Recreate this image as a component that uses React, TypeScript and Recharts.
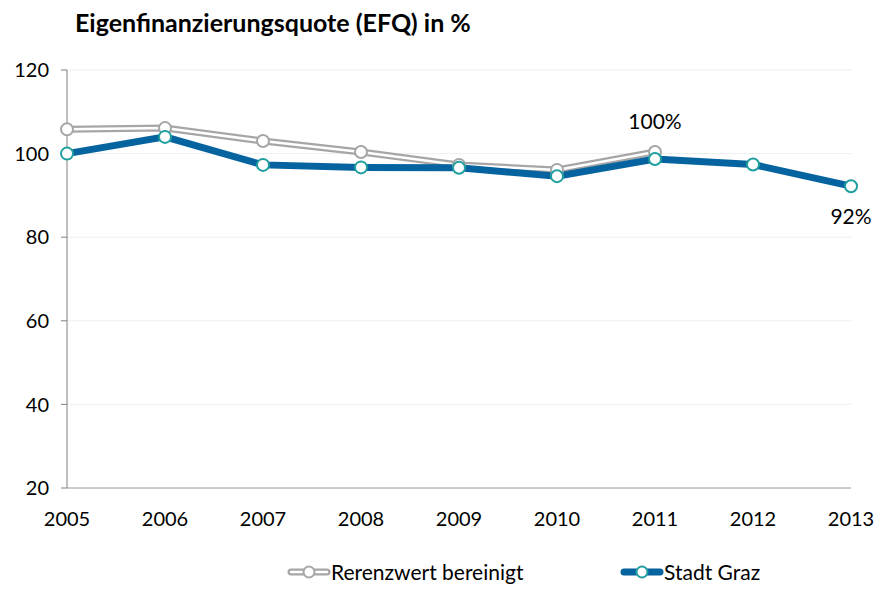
import React from "react";
import { LineChart, Line, XAxis, YAxis, CartesianGrid } from "recharts";

const years = ["2005", "2006", "2007", "2008", "2009", "2010", "2011", "2012", "2013"];
const referenz = [105.8, 106.1, 103.0, 100.4, 97.3, 96.1, 100.4, null, null];
const graz = [100.0, 104.0, 97.3, 96.7, 96.6, 94.6, 98.7, 97.4, 92.2];
const referenzLabels = [null, null, null, null, null, null, "100%", null, null];
const grazLabels = [null, null, null, null, null, null, null, null, "92%"];
const yTicks = [20, 40, 60, 80, 100, 120];

const data = years.map((year, i) => ({
   year,
   referenz: referenz[i],
   graz: graz[i],
}));

const FONT = "Lato, 'Open Sans', sans-serif";
const GREY = "#a6a6a6";
const BLUE = "#0563a0";
const TEAL = "#1f9f9f";

function makeLabel(labels: (string | null)[], dy: number) {
   return (props: any) => {
      const { x, y, index } = props;
      const text = labels[index];
      if (!text) return null;
      return (
         <text
            key={`lbl-${index}`}
            x={x}
            y={y + dy}
            textAnchor="middle"
            fontFamily={FONT}
            fontSize={21}
            fill="#000"
         >
            {text}
         </text>
      );
   };
}

function LegendIcon({ outer, inner, innerWidth, dotStroke }: { outer: string; inner?: string; innerWidth?: number; dotStroke: string }) {
   return (
      <svg width={44} height={16} style={{ display: "block" }}>
         <line x1={4} y1={8} x2={40} y2={8} stroke={outer} strokeWidth={7} strokeLinecap="round" />
         {inner && <line x1={4} y1={8} x2={40} y2={8} stroke={inner} strokeWidth={innerWidth} strokeLinecap="round" />}
         <circle cx={22} cy={8} r={5.5} fill="#fff" stroke={dotStroke} strokeWidth={2} />
      </svg>
   );
}

function ChartLegend() {
   return (
      <div style={{ fontFamily: FONT, fontSize: 21, color: "#000" }}>
         <div style={{ position: "absolute", left: 287, top: 559, display: "flex", alignItems: "center" }}>
            <LegendIcon outer={GREY} inner="#fff" innerWidth={2.5} dotStroke={GREY} />
            <span>Rerenzwert bereinigt</span>
         </div>
         <div style={{ position: "absolute", left: 620, top: 559, display: "flex", alignItems: "center" }}>
            <LegendIcon outer={BLUE} dotStroke={TEAL} />
            <span>Stadt Graz</span>
         </div>
      </div>
   );
}

export default function App() {
   return (
      <div style={{ position: "absolute", left: 0, top: 0, width: 880, height: 590, background: "#fff" }}>
         <div
            style={{
               position: "absolute",
               left: 75,
               top: 7,
               fontFamily: FONT,
               fontWeight: 700,
               fontSize: 25,
               color: "#000",
               whiteSpace: "nowrap",
            }}
         >
            Eigenfinanzierungsquote (EFQ) in %
         </div>
         <LineChart width={880} height={590} data={data} margin={{ top: 70, right: 29, left: 7, bottom: 72 }}>
            <CartesianGrid horizontal vertical={false} stroke="#eeeeee" />
            <XAxis
               dataKey="year"
               padding={{ left: 0, right: 0 }}
               axisLine={{ stroke: "#a0a0a0" }}
               tickLine={false}
               tick={{ fontFamily: FONT, fontSize: 20, fill: "#000" }}
               tickMargin={18}
               interval={0}
            />
            <YAxis
               width={60}
               domain={[20, 120]}
               ticks={yTicks}
               axisLine={{ stroke: "#808080" }}
               tickLine={{ stroke: "#808080" }}
               tickSize={6}
               tickMargin={12}
               tick={{ fontFamily: FONT, fontSize: 20, fill: "#000" }}
            />
            <Line
               dataKey="referenz"
               stroke={GREY}
               strokeWidth={7}
               dot={false}
               activeDot={false}
               isAnimationActive={false}
            />
            <Line
               dataKey="referenz"
               stroke="#fff"
               strokeWidth={2.5}
               dot={{ r: 6, fill: "#fff", stroke: GREY, strokeWidth: 2 }}
               activeDot={false}
               label={makeLabel(referenzLabels, -23)}
               isAnimationActive={false}
            />
            <Line
               dataKey="graz"
               stroke={BLUE}
               strokeWidth={7}
               dot={{ r: 6, fill: "#fff", stroke: TEAL, strokeWidth: 2 }}
               activeDot={false}
               label={makeLabel(grazLabels, 38)}
               isAnimationActive={false}
            />
         </LineChart>
         <ChartLegend />
      </div>
   );
}
